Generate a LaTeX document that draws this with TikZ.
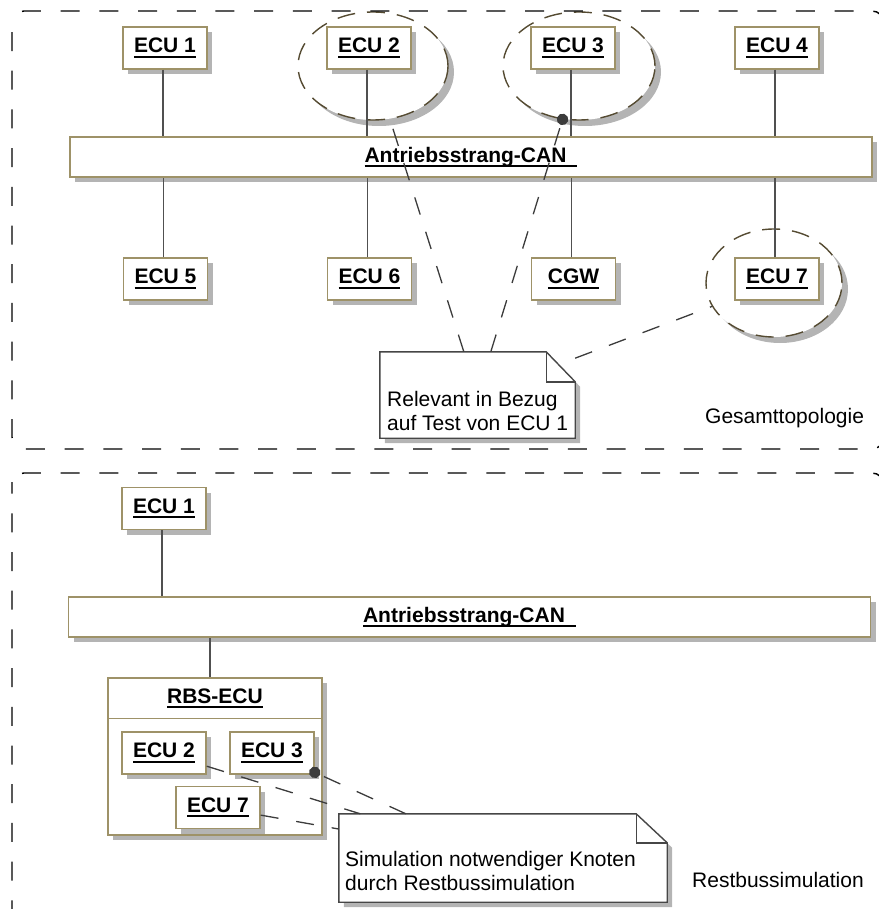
\documentclass[tikz,border=0pt]{standalone}
\usepackage{fontspec}
\setmainfont{Liberation Sans}
\usetikzlibrary{shapes.geometric,arrows.meta,shadows}

\definecolor{boxborder}{RGB}{158,146,104}
\definecolor{ringcol}{RGB}{85,75,50}
\definecolor{shadowgray}{RGB}{180,180,180}
\definecolor{linecol}{RGB}{80,80,80}
\definecolor{conncol}{RGB}{60,60,60}
\definecolor{notecol}{RGB}{70,70,70}

\newcommand\basefont{\fontsize{21}{24}\selectfont}
\newsavebox\ulbox
% bold text with a heavy underline
\newcommand\ulb[1]{\sbox\ulbox{\bfseries #1}\rlap{\rule[-5pt]{\wd\ulbox}{1.9pt}}\usebox\ulbox}

\tikzset{
  shadowed/.style={drop shadow={shadow xshift=5pt, shadow yshift=-5pt, opacity=1, fill=shadowgray}},
  ecubox/.style={rectangle, draw=boxborder, line width=1.5pt, fill=white,
    minimum width=84pt, minimum height=42pt, inner sep=0pt, font=\basefont, shadowed},
  busbox/.style={ecubox, minimum width=802pt, minimum height=40pt},
  ring/.style={ellipse, draw=ringcol, line width=1.4pt, dash pattern=on 18pt off 12pt,
    fill=white, inner sep=0pt,
    drop shadow={shadow xshift=6pt, shadow yshift=-6pt, opacity=1, fill=shadowgray}},
  buslink/.style={draw=linecol, line width=1.3pt},
  conn/.style={draw=conncol, line width=1.3pt, dash pattern=on 18pt off 18pt},
  dotend/.style={-{Circle[length=11.5pt]}, shorten >=-5.75pt},
  noteframe/.style={draw=notecol, line width=1.4pt, fill=white, line join=miter},
  notebox/.style={rectangle, inner sep=0pt},
  notetext/.style={anchor=north west, inner sep=0pt, align=left, font=\basefont},
  outerframe/.style={draw=black, line width=1.4pt, dash pattern=on 19pt off 19.7pt,
    dash phase=19pt, rounded corners=12pt},
  sectionlabel/.style={anchor=base west, inner sep=0pt, font=\basefont},
}

\begin{document}
\begin{tikzpicture}[x=1pt, y=-1pt]
\useasboundingbox (0,0) rectangle (878,909);

% ---------------- overall topology ----------------
% highlight rings
\node[ring, minimum width=150pt, minimum height=108pt] (r2) at (373,66) {};
\node[ring, minimum width=152pt, minimum height=108pt] (r3) at (579,66) {};
\node[ring, minimum width=136pt, minimum height=108pt] (r7) at (774,283) {};

% bus
\node[busbox] (bus) at (471,157) {\ulb{Antriebsstrang-CAN\hspace{11pt}}};

% control units
\node[ecubox] (e1) at (165,48) {\ulb{ECU 1}};
\node[ecubox] (e2) at (369,48) {\ulb{ECU 2}};
\node[ecubox] (e3) at (573,48) {\ulb{ECU 3}};
\node[ecubox] (e4) at (777,48) {\ulb{ECU 4}};
\node[ecubox] (e5) at (165.5,279) {\ulb{ECU 5}};
\node[ecubox] (e6) at (369.5,279) {\ulb{ECU 6}};
\node[ecubox] (cgw) at (573.5,279) {\ulb{CGW}};
\node[ecubox] (e7) at (777,279) {\ulb{ECU 7}};

\foreach \n in {e1,e2,e3,e4}
  \draw[buslink] ([xshift=-2pt]\n.south) -- ([xshift=-2pt]\n.south |- bus.north);
\foreach \n in {e5,e6,cgw,e7}
  \draw[buslink] ([xshift=-2pt]\n.north) -- ([xshift=-2pt]\n.north |- bus.south);

% note
\node[notebox, minimum width=195pt, minimum height=86pt] (n1) at (477.5,395) {};
\draw[noteframe, shadowed] (n1.north west) -- ([xshift=-29pt]n1.north east)
  -- ([yshift=-30pt]n1.north east) -- (n1.south east) -- (n1.south west) -- cycle;
\draw[noteframe, fill=none] ([xshift=-29pt]n1.north east)
  -- ([xshift=-29pt,yshift=-30pt]n1.north east) -- ([yshift=-30pt]n1.north east);
\node[notetext] (t1) at (387,391.5) {Relevant in Bezug\\auf Test von ECU 1};

\draw[conn] (n1) -- (r2);
\draw[conn, dotend] (n1) -- (r3);
\draw[conn] (n1) -- (r7);

\node[sectionlabel] (cap1) at (705,423) {Gesamttopologie};

% ---------------- rest bus simulation ----------------
\node[ecubox] (b1) at (164,508.5) {\ulb{ECU 1}};
\node[busbox] (bus2) at (469.5,617) {\ulb{Antriebsstrang-CAN\hspace{11pt}}};
\draw[buslink] ([xshift=-2pt]b1.south) -- ([xshift=-2pt]b1.south |- bus2.north);

\node[ecubox, minimum width=214pt, minimum height=157pt] (rbs) at (215,756.5) {};
\draw[buslink] ([xshift=-5pt]rbs.north) -- ([xshift=-5pt]rbs.north |- bus2.south);
\draw[draw=boxborder, line width=1.5pt] ([yshift=-41pt]rbs.north west) -- ([yshift=-41pt]rbs.north east);
\node[inner sep=0pt, font=\basefont] (rbst) at (215,698.5) {\ulb{RBS-ECU}};

\node[ecubox] (s2) at (164,753) {\ulb{ECU 2}};
\node[ecubox] (s3) at (272,753) {\ulb{ECU 3}};
\node[ecubox] (s7) at (218,807.5) {\ulb{ECU 7}};

\node[notebox, minimum width=328pt, minimum height=88pt] (n2) at (503,858) {};
\draw[noteframe, shadowed] (n2.north west) -- ([xshift=-31pt]n2.north east)
  -- ([yshift=-29pt]n2.north east) -- (n2.south east) -- (n2.south west) -- cycle;
\draw[noteframe, fill=none] ([xshift=-31pt]n2.north east)
  -- ([xshift=-31pt,yshift=-29pt]n2.north east) -- ([yshift=-29pt]n2.north east);
\node[notetext] (t2) at (345,851) {Simulation notwendiger Knoten\\durch Restbussimulation};

\draw[conn] (s2) -- (n2);
\draw[conn, dotend] (n2) -- (s3);
\draw[conn] (s7) -- (n2);

\node[sectionlabel] (cap2) at (692,887) {Restbussimulation};

% ---------------- dashed section frames ----------------
\draw[outerframe] (12,32) -- (12,11) -- (884,11) -- (884,449) -- (12,449) -- cycle;
\draw[outerframe] (12,494) -- (12,473) -- (884,473) -- (884,940) -- (12,940) -- cycle;
\end{tikzpicture}
\end{document}
